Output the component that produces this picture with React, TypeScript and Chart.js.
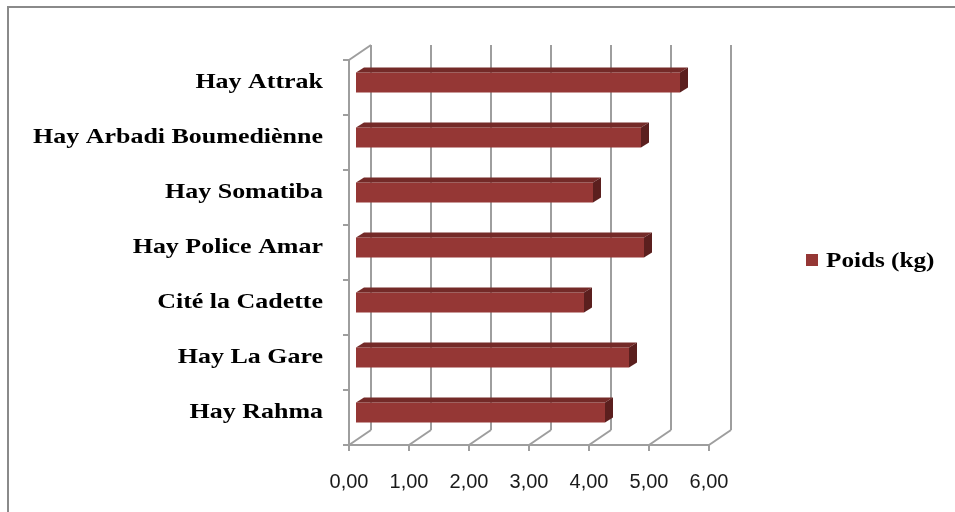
import { useEffect, useRef } from 'react';
import { Chart, registerables } from 'chart.js';

Chart.register(...registerables);

// Neighbourhoods, listed top to bottom
const categories = [
  'Hay Attrak',
  'Hay Arbadi Boumediènne',
  'Hay Somatiba',
  'Hay Police Amar',
  'Cité la Cadette',
  'Hay La Gare',
  'Hay Rahma',
];
// Weight per neighbourhood (kg)
const poids = [5.4, 4.75, 3.95, 4.8, 3.8, 4.55, 4.15];
const seriesLabel = 'Poids (kg)';

// Value axis range
const xMin = 0;
const xMax = 6;
const xStep = 1;

const BAR_FRONT = '#953735';
const BAR_TOP = '#742a28';
const BAR_SIDE = '#5b1f1e';
const GRID = '#9e9e9e';

// Pseudo-3D offsets relative to the plane the bars' front faces sit in
const FRONT = { dx: -7, dy: 5 };
const BACK = { dx: 15, dy: -10 };
const BAR_DEPTH = { dx: 8, dy: -5 };

const formatTick = (v: number) => v.toFixed(2).replace('.', ',');

const frame3d = {
  id: 'frame3d',
  beforeDraw(chart: any) {
    const { ctx, width, height } = chart;
    ctx.save();
    ctx.fillStyle = '#ffffff';
    ctx.fillRect(0, 0, width, height);
    // outer frame (top and left edges)
    ctx.strokeStyle = '#8a8a8a';
    ctx.lineWidth = 2;
    ctx.beginPath();
    ctx.moveTo(8, height);
    ctx.lineTo(8, 7);
    ctx.lineTo(width, 7);
    ctx.stroke();
    ctx.restore();
  },
  beforeDatasetsDraw(chart: any) {
    const { ctx, chartArea: a, scales } = chart;
    const xs = scales.x;
    const ys = scales.y;
    const line = (x1: number, y1: number, x2: number, y2: number) => {
      ctx.beginPath();
      ctx.moveTo(x1, y1);
      ctx.lineTo(x2, y2);
      ctx.stroke();
    };
    ctx.save();
    ctx.strokeStyle = GRID;
    ctx.lineWidth = 2;
    ctx.lineCap = 'butt';

    const x0 = xs.getPixelForValue(xMin);
    const x1 = xs.getPixelForValue(xMax);

    // back wall verticals, floor diagonals and value tick marks
    xs.ticks.forEach((t: any) => {
      const px = xs.getPixelForValue(t.value);
      line(px + BACK.dx, a.top + BACK.dy, px + BACK.dx, a.bottom + BACK.dy);
      line(px + FRONT.dx, a.bottom + FRONT.dy, px + BACK.dx, a.bottom + BACK.dy);
      line(px + FRONT.dx, a.bottom + FRONT.dy, px + FRONT.dx, a.bottom + FRONT.dy + 6);
    });

    // left wall: top edge and front edge
    line(x0 + FRONT.dx, a.top + FRONT.dy, x0 + BACK.dx, a.top + BACK.dy);
    line(x0 + FRONT.dx, a.top + FRONT.dy, x0 + FRONT.dx, a.bottom + FRONT.dy);
    // floor front edge
    line(x0 + FRONT.dx, a.bottom + FRONT.dy, x1 + FRONT.dx, a.bottom + FRONT.dy);

    // category boundary tick marks on the front edge
    const n = chart.data.labels.length;
    const step = n > 1 ? ys.getPixelForValue(1) - ys.getPixelForValue(0) : a.bottom - a.top;
    for (let i = 0; i <= n; i++) {
      const yb = ys.getPixelForValue(0) - step / 2 + i * step + FRONT.dy;
      line(x0 + FRONT.dx - 6, yb, x0 + FRONT.dx, yb);
    }
    ctx.restore();
  },
  afterDatasetsDraw(chart: any) {
    const { ctx } = chart;
    const meta = chart.getDatasetMeta(0);
    ctx.save();
    meta.data.forEach((el: any) => {
      const { x, y, base, height } = el.getProps(['x', 'y', 'base', 'height'], true);
      const top = y - height / 2;
      const bottom = y + height / 2;
      // top face
      ctx.fillStyle = BAR_TOP;
      ctx.beginPath();
      ctx.moveTo(base, top);
      ctx.lineTo(x, top);
      ctx.lineTo(x + BAR_DEPTH.dx, top + BAR_DEPTH.dy);
      ctx.lineTo(base + BAR_DEPTH.dx, top + BAR_DEPTH.dy);
      ctx.closePath();
      ctx.fill();
      // end face
      ctx.fillStyle = BAR_SIDE;
      ctx.beginPath();
      ctx.moveTo(x, top);
      ctx.lineTo(x + BAR_DEPTH.dx, top + BAR_DEPTH.dy);
      ctx.lineTo(x + BAR_DEPTH.dx, bottom + BAR_DEPTH.dy);
      ctx.lineTo(x, bottom);
      ctx.closePath();
      ctx.fill();
    });
    ctx.restore();
  },
  afterDraw(chart: any) {
    const { ctx, scales } = chart;
    const ys = scales.y;
    ctx.save();
    ctx.fillStyle = '#000000';
    // category labels
    ctx.font = 'bold 22px "Liberation Serif", "Times New Roman", serif';
    ctx.textAlign = 'right';
    ctx.textBaseline = 'alphabetic';
    chart.data.labels.forEach((label: string, i: number) => {
      const yc = ys.getPixelForValue(i);
      ctx.save();
      ctx.translate(323, yc + 5);
      ctx.scale(1.18, 1);
      ctx.fillText(label, 0, 0);
      ctx.restore();
    });
    // legend
    const ds = chart.data.datasets[0];
    ctx.fillStyle = ds.backgroundColor;
    ctx.fillRect(806, 254, 12, 12);
    ctx.fillStyle = '#000000';
    ctx.font = 'bold 21px "Liberation Serif", "Times New Roman", serif';
    ctx.textAlign = 'left';
    ctx.save();
    ctx.translate(826, 267);
    ctx.scale(1.2, 1);
    ctx.fillText(ds.label, 0, 0);
    ctx.restore();
    ctx.restore();
  },
};

export default function App() {
  const canvasRef = useRef<HTMLCanvasElement | null>(null);

  useEffect(() => {
    document.body.style.margin = '0';
    const canvas = canvasRef.current;
    if (!canvas) return;
    const chart = new Chart(canvas, {
      type: 'bar',
      data: {
        labels: categories,
        datasets: [
          {
            label: seriesLabel,
            data: poids,
            backgroundColor: BAR_FRONT,
            borderWidth: 0,
            barPercentage: 0.364,
            categoryPercentage: 1,
          },
        ],
      },
      options: {
        indexAxis: 'y',
        responsive: false,
        animation: false,
        devicePixelRatio: 1,
        layout: { padding: { top: 55, right: 239, bottom: 0, left: 0 } },
        plugins: {
          legend: { display: false },
          tooltip: { enabled: false },
        },
        scales: {
          x: {
            type: 'linear',
            min: xMin,
            max: xMax,
            grid: { display: false, drawTicks: false },
            border: { display: false },
            ticks: {
              stepSize: xStep,
              padding: 30,
              labelOffset: FRONT.dx,
              color: '#1a1a1a',
              font: { family: '"Liberation Sans", Arial, sans-serif', size: 20 },
              callback: (v: any) => formatTick(Number(v)),
            },
            afterFit: (s: any) => {
              s.height = 72;
            },
          },
          y: {
            type: 'category',
            grid: { display: false, drawTicks: false },
            border: { display: false },
            ticks: { display: false },
            afterFit: (s: any) => {
              s.width = 356;
            },
          },
        },
      },
      plugins: [frame3d],
    });
    return () => chart.destroy();
  }, []);

  return (
    <div style={{ width: 955, height: 512 }}>
      <canvas ref={canvasRef} width={955} height={512} style={{ display: 'block' }} />
    </div>
  );
}
